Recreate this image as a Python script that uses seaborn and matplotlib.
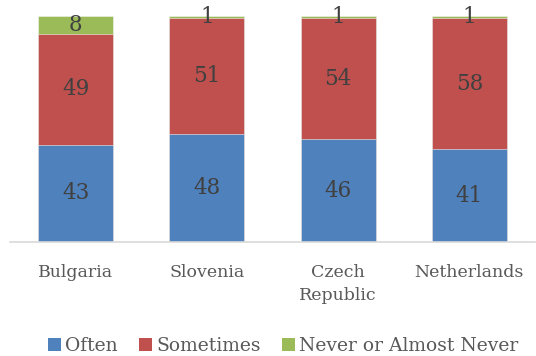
import matplotlib
matplotlib.use("Agg")
import matplotlib.pyplot as plt
import seaborn as sns
import numpy as np
import pandas as pd
from matplotlib.patches import Patch

countries = ["Bulgaria", "Slovenia", "Czech\nRepublic", "Netherlands"]
often = [43, 48, 46, 41]
sometimes = [49, 51, 54, 58]
never = [8, 1, 1, 1]

series_names = ["Often", "Sometimes", "Never or Almost Never"]
colors = ["#4F81BD", "#C0504D", "#9BBB59"]

sns.set_theme(style="white")
plt.rcParams["font.family"] = ["DejaVu Serif"]

fig = plt.figure(figsize=(5.36, 3.56), dpi=100)
ax = fig.add_axes([10 / 536, 1 - 242 / 356, 525 / 536, 226 / 356])

layers = np.array([often, sometimes, never], dtype=float)
# 100% stacked: each bar is scaled to its own total
shares = layers / layers.sum(axis=0) * 100
cum = np.cumsum(shares, axis=0)
df = pd.DataFrame({"country": countries})

# draw from the top of the stack downward so lower segments cover upper ones
for i in range(len(layers) - 1, -1, -1):
    df["v"] = cum[i]
    sns.barplot(data=df, x="country", y="v", color=colors[i], width=0.57,
                edgecolor="#F2F2F2", linewidth=0.4, saturation=1, ax=ax)

for i in range(len(layers)):
    bottoms = cum[i] - shares[i]
    for j in range(len(countries)):
        y = bottoms[j] + shares[i][j] / 2
        ax.text(j, y, f"{int(layers[i][j])}", ha="center", va="center",
                fontsize=15.5, color="#404040")

ax.set_ylim(0, 100)
ax.set_xlim(-0.5, 3.5)
ax.set_xlabel("")
ax.set_ylabel("")
ax.set_yticks([])
ax.tick_params(axis="x", length=0, pad=16, labelsize=12.5, labelcolor="#595959")
for lbl in ax.get_xticklabels():
    lbl.set_linespacing(1.45)
    lbl.set_verticalalignment("top")
for s in ["top", "right", "left"]:
    ax.spines[s].set_visible(False)
ax.spines["bottom"].set_color("#D9D9D9")
ax.spines["bottom"].set_linewidth(1.2)

handles = [Patch(facecolor=c, edgecolor="none") for c in colors]
leg = fig.legend(handles, series_names, loc="center", bbox_to_anchor=(283 / 536, 1 - 346 / 356),
                 ncol=3, frameon=False, fontsize=13.5, handlelength=0.7, handleheight=0.7,
                 handletextpad=0.2, columnspacing=1.15)
for t in leg.get_texts():
    t.set_color("#595959")

fig.savefig("out.png", dpi=100)
